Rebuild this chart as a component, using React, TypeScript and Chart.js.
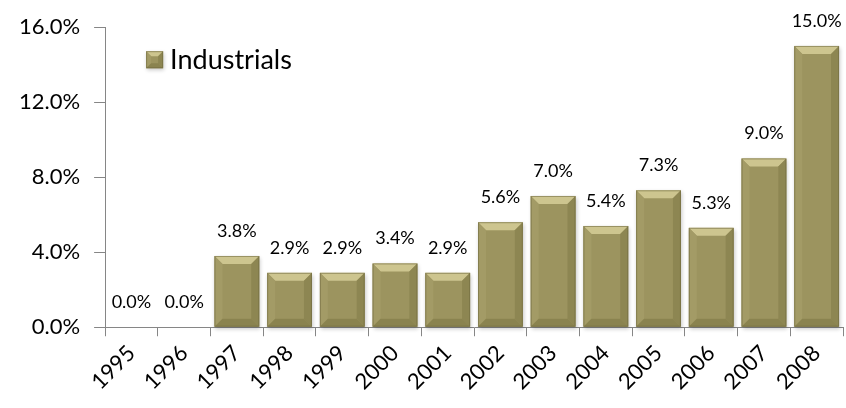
import React, { useEffect, useRef } from "react";
import { Chart, registerables } from "chart.js";

Chart.register(...registerables);

const categories = ["1995", "1996", "1997", "1998", "1999", "2000", "2001", "2002", "2003", "2004", "2005", "2006", "2007", "2008"];
const industrials = [0.0, 0.0, 3.8, 2.9, 2.9, 3.4, 2.9, 5.6, 7.0, 5.4, 7.3, 5.3, 9.0, 15.0];
const yTicks = [0, 4, 8, 12, 16];
const seriesName = "Industrials";

const FONT = "Lato, 'Open Sans', sans-serif";
const FACE = "#9c945f";

function bevelRect(ctx: CanvasRenderingContext2D, x0: number, y0: number, x1: number, y1: number, b: number) {
  const h = y1 - y0;
  const bb = Math.min(b, h / 2, (x1 - x0) / 2);
  ctx.save();
  ctx.shadowColor = "rgba(0,0,0,0.22)";
  ctx.shadowBlur = 4;
  ctx.shadowOffsetX = 1;
  ctx.shadowOffsetY = 2;
  ctx.fillStyle = FACE;
  ctx.fillRect(x0, y0, x1 - x0, h);
  ctx.restore();
  const poly = (pts: number[][], c: string) => {
    ctx.beginPath();
    ctx.moveTo(pts[0][0], pts[0][1]);
    for (let i = 1; i < pts.length; i++) ctx.lineTo(pts[i][0], pts[i][1]);
    ctx.closePath();
    ctx.fillStyle = c;
    ctx.fill();
  };
  poly([[x0, y0], [x1, y0], [x1 - bb, y0 + bb], [x0 + bb, y0 + bb]], "#cdc58f");
  poly([[x0, y0], [x0 + bb, y0 + bb], [x0 + bb, y1 - bb], [x0, y1]], "#a39b66");
  poly([[x1, y0], [x1, y1], [x1 - bb, y1 - bb], [x1 - bb, y0 + bb]], "#8d8652");
  poly([[x0, y1], [x0 + bb, y1 - bb], [x1 - bb, y1 - bb], [x1, y1]], "#8a834f");
  ctx.strokeStyle = "rgba(110,104,62,0.55)";
  ctx.lineWidth = 1;
  ctx.strokeRect(x0 + 0.5, y0 + 0.5, x1 - x0 - 1, h - 1);
}

const bevelPlugin = {
  id: "bevelBars",
  afterDatasetsDraw(chart: any) {
    const ctx = chart.ctx as CanvasRenderingContext2D;
    const meta = chart.getDatasetMeta(0);
    const ds = chart.data.datasets[0];
    ctx.save();
    meta.data.forEach((bar: any, i: number) => {
      const v = ds.data[i] as number;
      const { x, y, base, width } = bar.getProps(["x", "y", "base", "width"], true);
      if (base - y > 0.5) {
        bevelRect(ctx, x - width / 2, y, x + width / 2, base, 8);
      }
      ctx.fillStyle = "#000";
      ctx.font = `18px ${FONT}`;
      ctx.textAlign = "center";
      ctx.textBaseline = "middle";
      ctx.fillText(v.toFixed(1) + "%", x, y - 25);
    });
    const area = chart.chartArea;
    const lx = area.left + 41;
    const ly = area.top + 24;
    bevelRect(ctx, lx, ly, lx + 17, ly + 17, 5);
    ctx.fillStyle = "#000";
    ctx.font = `27px ${FONT}`;
    ctx.textAlign = "left";
    ctx.textBaseline = "middle";
    ctx.fillText(seriesName, lx + 24, ly + 9);
    ctx.restore();
  },
};

export default function App() {
  const ref = useRef<HTMLCanvasElement>(null);
  useEffect(() => {
    document.body.style.margin = "0";
    const chart = new Chart(ref.current!, {
      type: "bar",
      data: {
        labels: categories,
        datasets: [
          {
            label: seriesName,
            data: industrials,
            backgroundColor: "rgba(0,0,0,0)",
            borderWidth: 0,
            barPercentage: 0.85,
            categoryPercentage: 1,
          },
        ],
      },
      options: {
        animation: false,
        responsive: false,
        maintainAspectRatio: false,
        layout: { padding: { top: 20, right: 3, left: 5, bottom: 9 } },
        plugins: { legend: { display: false }, tooltip: { enabled: false } },
        scales: {
          x: {
            offset: true,
            grid: {
              offset: true,
              drawOnChartArea: false,
              drawTicks: true,
              tickLength: 9,
              color: "#868686",
            },
            border: { color: "#868686", width: 1 },
            ticks: {
              color: "#000",
              font: { family: FONT, size: 22 },
              maxRotation: 45,
              minRotation: 45,
              padding: 4,
              autoSkip: false,
            },
          },
          y: {
            min: 0,
            max: 16,
            afterBuildTicks: (axis: any) => {
              axis.ticks = yTicks.map((v) => ({ value: v }));
            },
            grid: {
              drawOnChartArea: false,
              drawTicks: true,
              tickLength: 11,
              color: "#868686",
            },
            border: { color: "#868686", width: 1 },
            ticks: {
              color: "#000",
              font: { family: FONT, size: 22 },
              padding: 14,
              callback: (v: any) => Number(v).toFixed(1) + "%",
            },
          },
        },
      },
      plugins: [bevelPlugin],
    });
    return () => chart.destroy();
  }, []);
  return (
    <div style={{ width: 846, height: 408 }}>
      <canvas ref={ref} width={846} height={408} style={{ display: "block" }} />
    </div>
  );
}
